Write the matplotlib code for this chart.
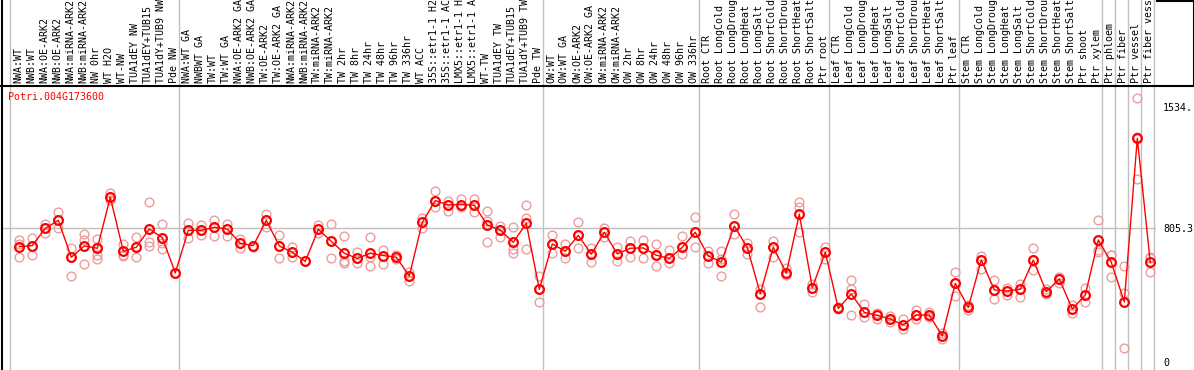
import matplotlib
matplotlib.use('Agg')
import matplotlib.pyplot as plt
from matplotlib.lines import Line2D

# ---------------- data ----------------
gene = "Potri.004G173600"

labels = [
    # group 1
    "NWA:WT", "NWB:WT", "NWA:OE-ARK2", "NWB:OE-ARK2", "NWA:miRNA-ARK2", "NWB:miRNA-ARK2",
    "NW 0hr", "WT H2O", "WT-NW", "TUA1dEY NW", "TUA1dEY+TUB15", "TUA1dY+TUB9 NW", "Pde NW",
    # group 2
    "NWA:WT GA", "NWBWT GA", "TW:WT", "TW:WT GA", "NWA:OE-ARK2 GA", "NWB:OE-ARK2 GA",
    "TW:OE-ARK2", "TW:OE-ARK2 GA", "NWA:miRNA-ARK2", "NWB:miRNA-ARK2", "TW:miRNA-ARK2",
    "TW:miRNA-ARK2", "TW 2hr", "TW 8hr", "TW 24hr", "TW 48hr", "TW 96hr", "TW 336hr",
    "WT ACC", "35S::etr1-1 H2", "35S::etr1-1 AC", "LMX5::etr1-1 H", "LMX5::etr1-1 A",
    "WT-TW", "TUA1dEY TW", "TUA1dEY+TUB15", "TUA1dY+TUB9 TW", "Pde TW",
    # group 3
    "OW:WT", "OW:WT GA", "OW:OE-ARK2", "OW:OE-ARK2 GA", "OW:miRNA-ARK2", "OW:miRNA-ARK2",
    "OW 2hr", "OW 8hr", "OW 24hr", "OW 48hr", "OW 96hr", "OW 336hr",
    # root
    "Root CTR", "Root LongCold", "Root LongDroug", "Root LongHeat", "Root LongSalt",
    "Root ShortCold", "Root ShortDrou", "Root ShortHeat", "Root ShortSalt", "Ptr root",
    # leaf
    "Leaf CTR", "Leaf LongCold", "Leaf LongDroug", "Leaf LongHeat", "Leaf LongSalt",
    "Leaf ShortCold", "Leaf ShortDrou", "Leaf ShortHeat", "Leaf ShortSalt", "Ptr leaf",
    # stem
    "Stem CTR", "Stem LongCold", "Stem LongDroug", "Stem LongHeat", "Stem LongSalt",
    "Stem ShortCold", "Stem ShortDrou", "Stem ShortHeat", "Stem ShortSalt", "Ptr shoot",
    "Ptr xylem",
    # single tissues
    "Ptr phloem", "Ptr fiber", "Ptr vessel", "Ptr fiber vess",
]

# sizes of the groups separated by vertical grid lines
group_sizes = [13, 28, 12, 10, 10, 11, 1, 1, 1, 1]

means = [
    693, 699, 803, 851, 629, 697, 683, 990, 665, 689, 799, 747, 534,
    791, 791, 809, 799, 713, 699, 851, 697, 659, 604, 797, 725, 653, 622, 653, 639,
    629, 516, 839, 970, 944, 946, 942, 823, 793, 719, 833, 436,
    709, 665, 761, 647, 779, 649, 683, 685, 641, 622, 689, 779,
    637, 600, 817, 687, 410, 689, 534, 888, 446, 659,
    321, 408, 297, 279, 257, 221, 281, 281, 155, 472,
    327, 612, 432, 426, 436, 612, 422, 498, 317, 402, 733,
    598, 360, 1345, 598,
]

replicates = [
    [733, 709, 629], [747, 699, 643], [829, 803, 773], [900, 851, 807],
    [683, 629, 516], [769, 733, 588], [739, 690, 643, 617], [1014, 990, 974],
    [709, 643, 637], [751, 689, 632], [960, 723, 699], [827, 713, 677], [534],
    [833, 791, 747], [823, 791, 763], [853, 809, 759], [829, 799, 759],
    [741, 713, 687], [699, 693], [890, 851, 813], [761, 697, 622],
    [693, 659, 632], [608, 604], [825, 797, 773], [827, 725, 622],
    [757, 604, 596], [659, 622, 596], [751, 629, 576], [675, 639, 588],
    [640, 618], [542, 516, 488], [867, 839, 803], [1028, 970, 930],
    [968, 944, 908], [978, 946, 930], [978, 942, 900], [908, 849, 719],
    [817, 793, 753], [809, 719, 679, 657], [942, 863, 677], [516, 436, 358],
    [761, 709, 653], [709, 665, 622], [839, 761, 683], [687, 647, 602],
    [803, 779, 753], [693, 649, 608], [727, 683, 632], [733, 685, 622],
    [709, 641, 576], [673, 622, 592], [757, 689, 649], [869, 779, 689],
    [669, 637, 592], [667, 617, 516], [887, 817, 769], [717, 687, 647],
    [440, 410, 330], [729, 689, 632], [562, 534, 520], [962, 930, 783],
    [470, 446, 422], [689, 659, 617],
    [330, 318], [492, 438, 281], [345, 297, 271], [295, 279, 255],
    [275, 257, 241], [255, 221, 195], [311, 281, 259], [301, 281, 271],
    [171, 155, 135], [538, 472, 396],
    [343, 327, 311], [639, 612, 558], [492, 432, 376], [446, 426, 402],
    [466, 436, 388], [683, 612, 552], [436, 422, 408], [512, 498, 476],
    [341, 317, 291], [446, 402, 362], [853, 673, 663],
    [643, 643, 508], [576, 416, 81], [1586, 1351, 1098], [632, 624, 538],
]

ytick_values = [0, 805.3, 1534.4]
ytick_labels = ["0", "805.3", "1534."]

# ---------------- layout ----------------
W, H = 1194, 370
HEADER = 86
MONO = "DejaVu Sans Mono"
FS = 7.2
GRID = "#c0c0c0"
RED = "#ff0000"
PINK = "#ec9c9c"

fig = plt.figure(figsize=(W / 100, H / 100), dpi=100)
ax = fig.add_axes([2 / W, 0, 1154 / W, (H - HEADER) / H])
hx = fig.add_axes([2 / W, (H - HEADER) / H, 1154 / W, HEADER / H])

xlim = ((2 - 19.3) / 13, (1156 - 19.3) / 13)
for a in (ax, hx):
    a.set_xlim(*xlim)
    for s in a.spines.values():
        s.set_visible(False)
    a.set_xticks([])
ax.set_ylim(-50, 1660)
hx.set_ylim(0, 1)
hx.set_yticks([])

# vertical group separators
bounds = [0]
for g in group_sizes:
    bounds.append(bounds[-1] + g)
for b in bounds:
    for a in (ax, hx):
        a.axvline(b - 0.677, color=GRID, lw=1, zorder=0)

# horizontal line at the mean level
ax.axhline(ytick_values[1], color=GRID, lw=1, zorder=0)

xs = list(range(len(means)))

# replicate points
for i, reps in enumerate(replicates):
    ax.plot([xs[i]] * len(reps), reps, linestyle="none", marker="o",
            markersize=6.3, markerfacecolor="none", markeredgecolor=PINK,
            markeredgewidth=1.0, zorder=2, clip_on=False)

# mean line + markers
ax.plot(xs, means, color=RED, lw=1.0, zorder=3)
ax.plot(xs, means, linestyle="none", marker="o", markersize=6.3,
        markerfacecolor="none", markeredgecolor=RED, markeredgewidth=1.6, zorder=4)

# right-side value labels
ax.yaxis.tick_right()
ax.set_yticks(ytick_values)
ax.set_yticklabels(ytick_labels, fontsize=FS, family=MONO)
ax.tick_params(axis="y", length=0, pad=5)

# header labels
for i, lab in enumerate(labels):
    hx.text(xs[i] - 0.08, 3 / HEADER, lab, rotation=90, ha="center", va="bottom",
            fontsize=FS, family=MONO, clip_on=True)

# gene name
fig.text(8 / W, 1 - 97 / H, gene, color=RED, fontsize=FS, family=MONO,
         ha="left", va="center")

# frame lines
hb = (H - HEADER) / H
for xdat, ydat in [([2 / W, 2 / W], [0, 1]),
                   ([0, 1], [hb, hb]),
                   ([1156.5 / W, 1], [1 - 0.5 / H, 1 - 0.5 / H]),
                   ([1 - 0.5 / W, 1 - 0.5 / W], [hb, 1])]:
    fig.add_artist(Line2D(xdat, ydat, color="black", lw=1.5,
                          transform=fig.transFigure))

fig.savefig("out.png", dpi=100)
